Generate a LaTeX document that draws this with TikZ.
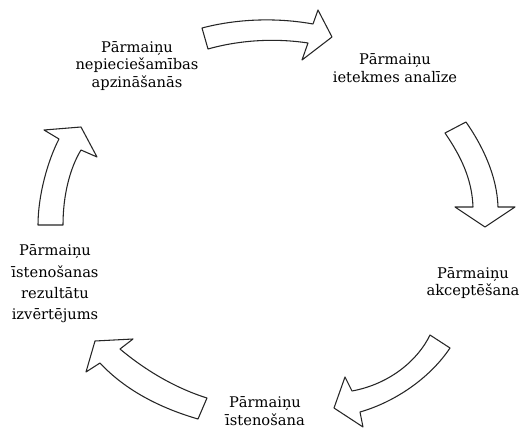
\documentclass[tikz,border=0pt]{standalone}
\usepackage{fontspec}
\setmainfont{DejaVu Serif}
\usepackage{tikz}
\usetikzlibrary{positioning}
\tikzset{
  stage/.style={align=center, font=\fontsize{11}{13}\selectfont, inner sep=1pt},
  cyclearrow/.style={draw=black!85, fill=white, line width=0.8pt, line join=round},
}

\begin{document}
\begin{tikzpicture}[x=0.75pt, y=-0.75pt]
    \useasboundingbox (0,0) rectangle (526,432);
    % stages of the cycle
    \node[stage] (need) at (137,66) {Pārmaiņu\\nepieciešamības\\apzināšanās};
    \node[stage] (impact) at (395,68) {Pārmaiņu\\ietekmes analīze};
    \node[stage] (accept) at (473,283) {Pārmaiņu\\akceptēšana};
    \node[stage] (implement) at (265,411) {Pārmaiņu\\īstenošana};
    \node[stage] (evaluate) at (55,284) {Pārmaiņu\\[3pt]īstenošanas\\[3pt]rezultātu\\[3pt]izvērtējums};
    % curved block arrows between the stages
    \draw[cyclearrow] (202,28) .. controls (240,18) and (280,18) .. (313,24)
      -- (318,10) -- (332,37) -- (302,60) -- (308,43)
      .. controls (275,38) and (240,40) .. (208,49) -- cycle;
    \draw[cyclearrow] (445,133) -- (466,122) .. controls (482,145) and (497,175) .. (498,207)
      -- (515,207) -- (485,227) -- (455,207) -- (473,207)
      .. controls (472,178) and (460,155) .. (445,133) -- cycle;
    \draw[cyclearrow] (430,335) -- (450,348) .. controls (430,378) and (395,402) .. (360,412)
      -- (363,427) -- (334,408) -- (345,377) -- (352,391)
      .. controls (390,384) and (418,360) .. (430,335) -- cycle;
    \draw[cyclearrow] (207,398) -- (198,419) .. controls (160,408) and (125,390) .. (100,363)
      -- (86,372) -- (95,341) -- (133,339) -- (120,349)
      .. controls (145,370) and (175,388) .. (207,398) -- cycle;
    \draw[cyclearrow] (38,225) -- (63,225) .. controls (63,195) and (70,168) .. (81,150)
      -- (97,157) -- (81,127) -- (44,130) -- (59,139)
      .. controls (48,160) and (38,195) .. (38,225) -- cycle;
\end{tikzpicture}
\end{document}
